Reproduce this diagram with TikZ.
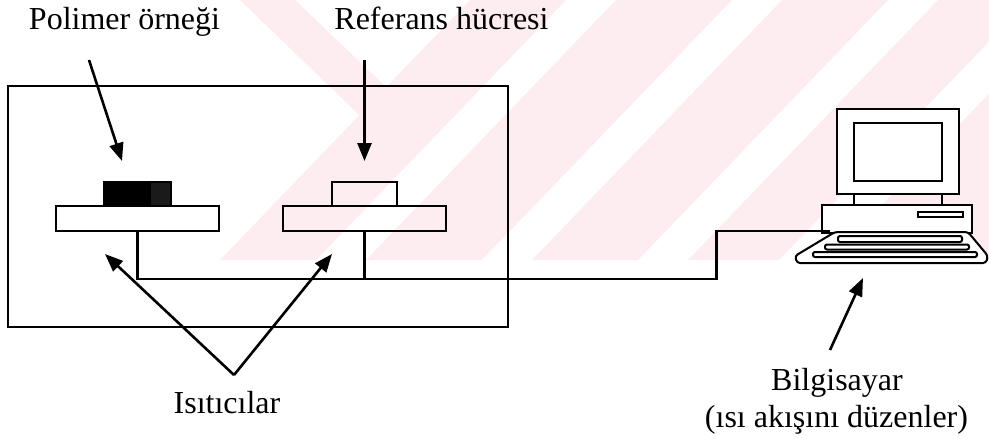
\documentclass[tikz,border=0pt]{standalone}
\usepackage{fontspec}
\setmainfont{Liberation Serif}
\usetikzlibrary{arrows.meta}

\definecolor{wmpink}{RGB}{253,236,240}
\definecolor{darkink}{RGB}{26,26,26}

\tikzset{
  lbl/.style={font=\fontsize{32}{37}\selectfont, inner sep=0pt, anchor=base},
  wire/.style={line width=2.2pt},
  frame/.style={draw, line width=2.3pt, inner sep=0pt, outer sep=0pt},
  plate/.style={frame, minimum width=163pt, minimum height=24.5pt},
  cup/.style={frame, minimum height=24pt},
  pointer/.style={line width=2.6pt, -{Triangle[length=18pt,width=14pt]}},
  cw/.style={line width=2pt},
  cpart/.style={draw, cw, inner sep=0pt, outer sep=0pt},
}

\begin{document}
\begin{tikzpicture}[x=1pt,y=-1pt]
\useasboundingbox (0,0) rectangle (989,439);

% faint diagonal background stripes
\begin{scope}
  \clip (0,0) rectangle (989,260);
  \foreach \b/\w in {220/96, 366/116, 532/106, 688/91, 829/170}
    \fill[wmpink] (\b,260) -- ++(\w,0) -- ++(250,-260) -- ++(-\w,0) -- cycle;
  \fill[wmpink] (240,0) -- (295,0) -- (410,110) -- (385,140) -- cycle;
\end{scope}

% DSC cell housing
\node[frame, minimum width=500pt, minimum height=241pt, anchor=north west] (cell) at (8,86) {};

% heaters
\node[plate] (hs) at (137.5,218.5) {};
\node[plate] (hr) at (364.5,218.5) {};

% sample pan and reference pan
\node[cup, minimum width=67pt, fill=black, anchor=south,
      path picture={\fill[darkink] ([xshift=-20pt]path picture bounding box.north east)
                    rectangle (path picture bounding box.south east);}] (smp) at (hs.north) {};
\node[cup, minimum width=65pt, anchor=south] (ref) at (hr.north) {};

% computer
\node[cpart, fill=white, minimum width=122pt, minimum height=85pt] (mon) at (898,151.5) {};
\node[cpart, minimum width=88pt, minimum height=58pt] (scr) at (898,152) {};
\node[cpart, fill=white, minimum width=150pt, minimum height=28pt, anchor=north] (cpu) at (897,204.5) {};
\draw[cw] (mon.south -| scr.west) -- (cpu.north -| scr.west);
\draw[cw] (mon.south -| scr.east) -- (cpu.north -| scr.east);
\node[cpart, line width=1.6pt, minimum width=45pt, minimum height=5pt] (slot) at (940.5,214.5) {};
\draw[cw, fill=white, rounded corners=3pt]
  (835,232) -- (968,232) -- (988,256) -- (986,263) -- (797,263) -- (795,256) -- cycle;
\draw[cw, rounded corners=2pt] (838,236) rectangle (962,242);
\draw[cw, rounded corners=2pt] (825,244.5) rectangle (969,249.5);
\draw[cw, rounded corners=2pt] (813,252) rectangle (977,257);

% signal line from the heaters to the computer
\coordinate (j) at (364.5,279);
\coordinate (bend) at (716.5,279);
\coordinate (port) at (830,231);
\draw[wire] (hs.south) |- (j) -- (bend) |- (port);
\draw[wire] (hr.south) -- (j);

% labels
\node[lbl] (lp) at (124.5,30) {Polimer örneği};
\node[lbl] (lr) at (441.5,30) {Referans hücresi};
\node[lbl] (li) at (227,413) {Isıtıcılar};
\node[lbl] (lb) at (837,390) {Bilgisayar};
\node[lbl] (lf) at (836.5,427) {(ısı akışını düzenler)};

% pointers
\coordinate (pS) at (89,60);   \coordinate (tS) at (122,161);
\coordinate (pR) at (364.5,60); \coordinate (tR) at (364.5,161);
\coordinate (apex) at (234,375);
\coordinate (tH1) at (105,254); \coordinate (tH2) at (332,254);
\coordinate (pC) at (830,350);  \coordinate (tC) at (863,278);
\draw[pointer] (pS) -- (tS);
\draw[pointer] (pR) -- (tR);
\draw[pointer] (apex) -- (tH1);
\draw[pointer] (apex) -- (tH2);
\draw[pointer] (pC) -- (tC);
\end{tikzpicture}
\end{document}
